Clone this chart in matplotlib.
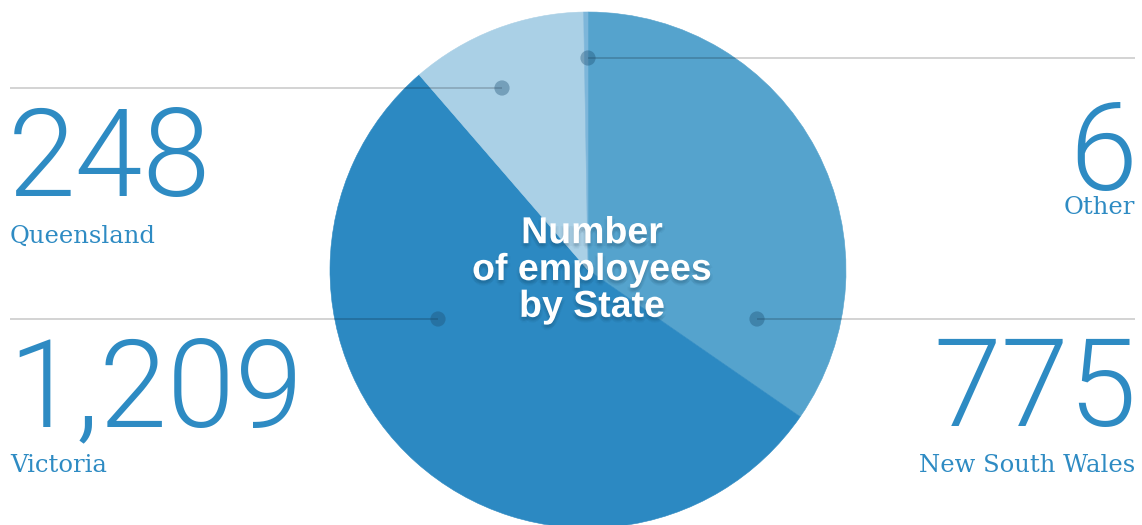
import matplotlib
matplotlib.use("Agg")
import matplotlib.pyplot as plt
import matplotlib.patheffects as pe

# Employees by state
states = ["New South Wales", "Victoria", "Queensland", "Other"]
counts = [775, 1209, 248, 6]
count_labels = ["775", "1,209", "248", "6"]
slice_colors = ["#55a3cd", "#2c89c2", "#aad0e6", "#7db6da"]

W, H = 1142, 525
text_blue = "#2e8bc3"

fig = plt.figure(figsize=(W / 100, H / 100), dpi=100)
ax = fig.add_axes([0, 0, 1, 1])

# pie in pixel units, y measured from the bottom of the figure
cx, cy, r = 588, H - 270, 258
wedges, _ = ax.pie(counts, colors=slice_colors, startangle=90,
                   counterclock=False, center=(cx, cy), radius=r, frame=True,
                   wedgeprops=dict(linewidth=0.4))
for w in wedges:
    w.set_edgecolor(w.get_facecolor())

ax.set_xlim(0, W)
ax.set_ylim(0, H)
ax.set_aspect("auto")
ax.axis("off")

# leader lines: (x0, x1, y, dot x) in image pixels
leaders = {
    "Queensland": (10, 502, 88, 502),
    "Other": (588, 1135, 58, 588),
    "Victoria": (10, 438, 319, 438),
    "New South Wales": (757, 1135, 319, 757),
}
for name, (x0, x1, y, xd) in leaders.items():
    ax.plot([x0, x1], [H - y, H - y], color="black", alpha=0.2, lw=1.2,
            zorder=5, solid_capstyle="butt")
    ax.scatter([xd], [H - y], s=120, color="#1d4f73", alpha=0.38,
               edgecolors="none", zorder=6)

num_font = dict(family=["Roboto", "DejaVu Sans"], weight=300, fontsize=88,
                color=text_blue)
lab_font = dict(family=["DejaVu Serif"], fontsize=17.5, color=text_blue)

# number / label pairs: (x, number baseline, label baseline, ha)
placements = {
    "Queensland": (8, 196, 243, "left"),
    "Victoria": (8, 426, 472, "left"),
    "Other": (1137, 190, 214, "right"),
    "New South Wales": (1137, 426, 472, "right"),
}
for name, lab in zip(states, count_labels):
    x, yn, yl, ha = placements[name]
    ax.text(x, H - yn, lab, ha=ha, va="baseline", **num_font)
    ax.text(x + (2 if ha == "left" else -2), H - yl, name, ha=ha,
            va="baseline", **lab_font)

# centre title with a soft drop shadow
shadow = [pe.SimplePatchShadow(offset=(dx, dy), shadow_rgbFace="#0b2a40",
                               alpha=0.045)
          for dx, dy in [(0, -2), (1, -3), (-1, -3), (0, -4), (2, -2),
                         (-2, -2), (0, -1)]]
ax.text(592, H - 270, "Number\nof employees\nby State", ha="center",
        va="center", fontsize=27, fontweight="bold", color="white",
        family=["Liberation Sans"], linespacing=1.03, zorder=10,
        path_effects=shadow + [pe.Normal()])

fig.savefig("out.png", dpi=100)
